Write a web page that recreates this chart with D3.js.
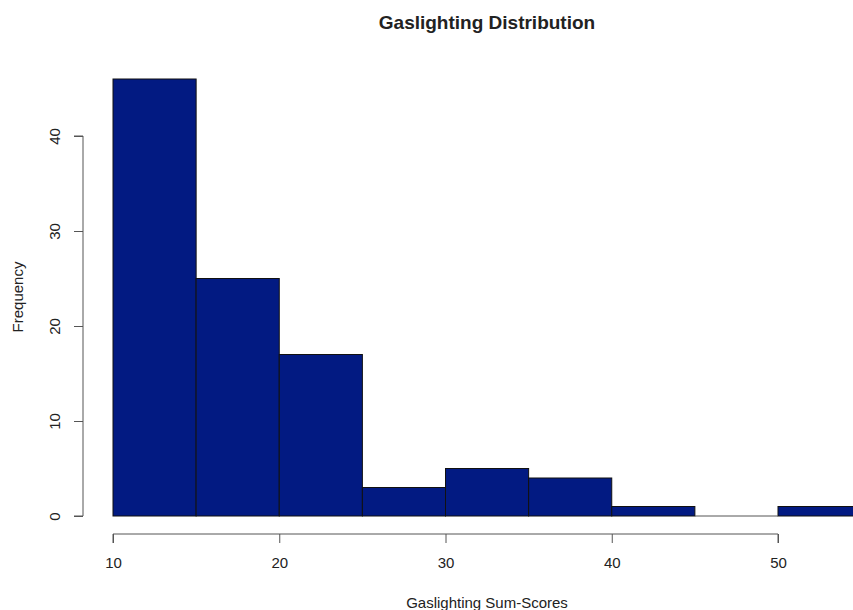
<!DOCTYPE html>
<meta charset="utf-8">
<script src="https://d3js.org/d3.v7.min.js"></script>
<title>Gaslighting Distribution</title>
<style>
    body { margin: 0; background: #fff; }
    text { font-family: "Liberation Sans", Arial, sans-serif; fill: #222; }
</style>
<div id="my_dataviz"></div>
<script>
    // histogram bins (left edge, right edge) and counts
    const binStarts = [10, 15, 20, 25, 30, 35, 40, 45, 50];
    const binEnds   = [15, 20, 25, 30, 35, 40, 45, 50, 55];
    const counts    = [46, 25, 17, 3, 5, 4, 1, 0, 1];
    const xTicks = [10, 20, 30, 40, 50];
    const yTicks = [0, 10, 20, 30, 40];

    const width = 853, height = 610;

    const svg = d3.select("#my_dataviz")
        .append("svg")
        .attr("width", width)
        .attr("height", height);

    // scales tuned to the R plot region
    const x = d3.scaleLinear().domain([10, 50]).range([113, 778]);
    const y = d3.scaleLinear().domain([0, 40]).range([516, 136]);

    const bins = binStarts.map((s, i) => ({x0: s, x1: binEnds[i], n: counts[i]}));

    svg.append("g")
        .selectAll("rect")
        .data(bins.filter(d => d.n > 0))
        .join("rect")
        .attr("x", d => x(d.x0))
        .attr("y", d => y(d.n))
        .attr("width", d => x(d.x1) - x(d.x0))
        .attr("height", d => y(0) - y(d.n))
        .attr("fill", "#021a82")
        .attr("stroke", "#111")
        .attr("stroke-width", 1);

    // empty bins still show as a flat line, like R does
    svg.append("g")
        .selectAll("line")
        .data(bins.filter(d => d.n === 0))
        .join("line")
        .attr("x1", d => x(d.x0))
        .attr("x2", d => x(d.x1))
        .attr("y1", y(0))
        .attr("y2", y(0))
        .attr("stroke", "#555")
        .attr("stroke-width", 1);

    // x axis
    const xAxis = svg.append("g")
        .attr("transform", "translate(0,534)")
        .call(d3.axisBottom(x).tickValues(xTicks).tickSize(9).tickPadding(14).tickFormat(d3.format("d")));
    xAxis.select(".domain").attr("d", `M${x(10)},9V0H${x(50)}V9`).attr("stroke", "#555");
    xAxis.selectAll(".tick line").attr("stroke", "#555");
    xAxis.selectAll(".tick text").style("font-size", "15px").attr("fill", "#222");

    // y axis
    const yAxis = svg.append("g")
        .attr("transform", "translate(83,0)")
        .call(d3.axisLeft(y).tickValues(yTicks).tickSize(9).tickFormat(d3.format("d")));
    yAxis.select(".domain").attr("d", `M-9,${y(0)}H0V${y(40)}H-9`).attr("stroke", "#555");
    yAxis.selectAll(".tick line").attr("stroke", "#555");
    yAxis.selectAll(".tick text")
        .style("font-size", "15px")
        .attr("fill", "#222")
        .attr("x", null).attr("dy", null)
        .attr("text-anchor", "middle")
        .attr("transform", "translate(-23,0) rotate(-90)");

    // title and labels
    svg.append("text")
        .attr("x", 487)
        .attr("y", 29)
        .attr("text-anchor", "middle")
        .style("font-size", "19px")
        .style("font-weight", "bold")
        .text("Gaslighting Distribution");

    svg.append("text")
        .attr("x", 487)
        .attr("y", 608)
        .attr("text-anchor", "middle")
        .style("font-size", "15px")
        .text("Gaslighting Sum-Scores");

    svg.append("text")
        .attr("transform", "translate(23,297) rotate(-90)")
        .attr("text-anchor", "middle")
        .style("font-size", "15px")
        .text("Frequency");
</script>
